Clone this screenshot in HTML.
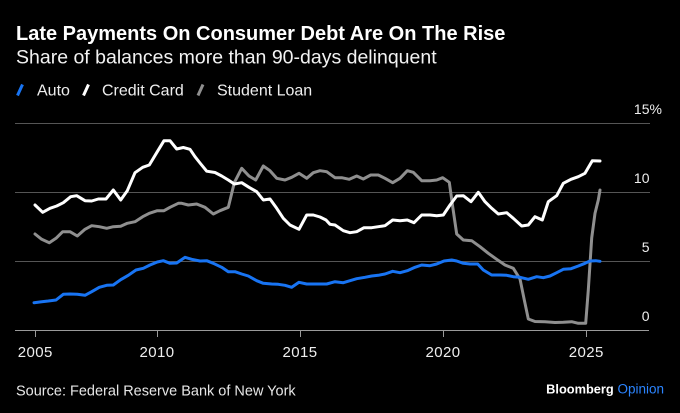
<!DOCTYPE html>
<html>
<head>
<meta charset="utf-8">
<style>
  html, body { margin:0; padding:0; background:#000; }
  body { width:680px; height:413px; overflow:hidden; }
  svg { display:block; font-family:"Liberation Sans", Arial, sans-serif; }
</style>
</head>
<body>
<svg width="680" height="413" viewBox="0 0 680 413" xmlns="http://www.w3.org/2000/svg">
  <rect x="0" y="0" width="680" height="413" fill="#000"/>

  <!-- Title / subtitle -->
  <text x="16" y="40" fill="#fff" font-size="20" font-weight="bold">Late Payments On Consumer Debt Are On The Rise</text>
  <text x="16" y="63.5" fill="#f2f2f2" font-size="19.5">Share of balances more than 90-days delinquent</text>

  <!-- Legend -->
  <line x1="17.5" y1="95.5" x2="22.5" y2="84.5" stroke="#1874f3" stroke-width="3"/>
  <text x="37" y="95.7" fill="#eee" font-size="16">Auto</text>
  <line x1="83.5" y1="95.5" x2="88.5" y2="84.5" stroke="#fff" stroke-width="3"/>
  <text x="102" y="95.7" fill="#eee" font-size="16">Credit Card</text>
  <line x1="198" y1="95.5" x2="203" y2="84.5" stroke="#8f8f8f" stroke-width="3"/>
  <text x="217" y="95.7" fill="#eee" font-size="16">Student Loan</text>

  <!-- Gridlines -->
  <g stroke="#555" stroke-width="1">
    <line x1="15" y1="123.5" x2="650" y2="123.5"/>
    <line x1="15" y1="192.5" x2="650" y2="192.5"/>
    <line x1="15" y1="261.5" x2="650" y2="261.5"/>
  </g>
  <!-- Axis -->
  <line x1="15" y1="330.5" x2="649" y2="330.5" stroke="#9a9a9a" stroke-width="1"/>
  <g stroke="#9a9a9a" stroke-width="1">
    <line x1="35.5" y1="331" x2="35.5" y2="337"/>
    <line x1="157.5" y1="331" x2="157.5" y2="337"/>
    <line x1="300.5" y1="331" x2="300.5" y2="337"/>
    <line x1="443.5" y1="331" x2="443.5" y2="337"/>
    <line x1="586.5" y1="331" x2="586.5" y2="337"/>
  </g>

  <!-- Y labels -->
  <g fill="#eee" font-size="14">
    <text x="649.5" y="114" text-anchor="end">15</text>
    <text x="649.5" y="114">%</text>
    <text x="649.5" y="183" text-anchor="end">10</text>
    <text x="649.5" y="252" text-anchor="end">5</text>
    <text x="649.5" y="321" text-anchor="end">0</text>
  </g>

  <!-- X labels -->
  <g fill="#eee" font-size="15" text-anchor="middle" letter-spacing="0.4">
    <text x="35.3" y="357">2005</text>
    <text x="157" y="357">2010</text>
    <text x="300" y="357">2015</text>
    <text x="443" y="357">2020</text>
    <text x="586.3" y="357">2025</text>
  </g>

  <!-- Series -->
  <g fill="none" stroke-width="3" stroke-linejoin="round" stroke-linecap="round">
    <polyline stroke="#8f8f8f" points="35,234 41.7,239.3 49.3,242.7 56,238.3 62.7,231.7 70,231.7 77.3,236 85,229.3 91.7,225.7 99.3,226.7 106.7,228.3 113.3,226.7 120.7,226.3 127.3,223.3 135,221.7 142.7,216.7 149.3,213.3 157.3,210.7 164,210.7 170,207.3 178.3,203.3 181.7,203.3 188.3,205 196.7,204 205,207.3 213.3,214 220,210.7 228.3,207.3 234.3,182.7 241.7,168.3 249,176 255.7,180 263.3,166 270,170.7 276.7,178.3 285,180 291.7,177.3 299,173.3 306.7,178.3 313.3,172.7 320,170.7 326.7,171.7 335,177.7 341.7,177.7 349.3,179.3 356.7,176 363.3,179 370.7,175 378.3,175 385,178.3 392.7,182.7 400,178.3 407.3,170.7 413.3,172.3 421.7,180.7 430,180.7 436.7,180 442.7,177.7 449.3,182.3 452.7,206.7 456.7,234 463.3,240 471.7,240.7 480,246.7 488.3,253.3 496.7,259.3 505,265 513.3,268.3 520,279 524.3,300 528.3,319 535,321.5 545,321.7 555,322.5 563.3,322.3 571.7,321.7 578.3,323.3 585.7,323.3 588.3,290 591.7,238 595,213.3 598.3,200 600,190"/>
    <polyline stroke="#ffffff" points="35,205 42.7,212.3 50,208.3 56.7,206 63.3,202.7 70.7,196.7 76.7,195.7 85,200.7 91.7,201 98.3,199 106,199 113.3,190 120.7,200 127.3,190.7 135,172.7 142.7,167.3 149.3,165 157.3,151.7 164,140.7 170,140.7 176.7,149 183.3,147.5 190,149.3 195,156.7 200,163 206.7,171.2 215,172.5 221.7,176 228.3,180 234.3,184 241.7,182.7 249,187.3 256.7,191.7 263.3,200 270,199 276.7,208.3 283.3,218.3 290,225 299,229.3 306.7,215 313.3,215 320,217 326,220 330,224.3 335,225 343.3,230.7 350,232.7 356.7,231.7 364,227.7 371.7,227.7 378.3,226.7 385,225.7 392.7,220 400,220.7 407.3,220 414,222.7 421.7,215 430,215 436.7,215.7 443.3,215 450,205 456.7,196 463.3,195.7 471,201.7 478.3,192.3 485,201.7 491.7,208.3 498.3,214 506.7,212.7 513.3,218.3 521.7,226 528.3,225 535,216.7 542.3,220 548.3,201.7 556.7,195.7 563.3,183.3 571,179.3 578.3,176.7 585,173.3 592.3,160.7 600,161"/>
    <polyline stroke="#1874f3" points="34,302.7 41.7,301.7 48.3,301 56,300 63.3,294.3 70,294 77.3,294.3 85,295.3 91.7,291.7 99.3,287.3 106.7,285.3 113.3,285 120.7,279.7 128.3,275.3 136,270 143.3,268.3 150,265 157.3,262 163.3,260.7 170,263.3 176.7,263 185,257.3 191.7,259.3 200,261 206.7,260.7 213.3,263.3 221.7,267.3 228.3,271.7 235,271.7 241.7,274 248.3,276 256.7,280.7 263.3,283.3 271.7,284 278.3,284.3 285,285.3 291.7,287.3 299,282.3 306.7,284 315,284 320,284 326.7,284 335,281.7 343.3,282.7 350,280.7 356.7,278.7 365,277.3 371.7,276 378.3,275.3 385,274 392.7,271.3 400,272.7 407.3,270.7 415,267.3 421.7,265 430,265.7 436.7,264 444,261 451.7,260 456.7,261 463.3,263.3 470,264 477.7,264 483.3,270 491.7,275 500,275 506.7,275.3 513.3,276.7 520,277.3 528.3,279.3 536.7,276.7 543.3,277.7 550,276 556.7,272.7 563.3,269.3 571,268.7 578.3,266 585,263.3 590,261 595.7,260.7 600,261.3"/>
  </g>

  <!-- Footer -->
  <text x="16" y="395.7" fill="#e6e6e6" font-size="14.5">Source: Federal Reserve Bank of New York</text>
  <text x="664" y="393.5" text-anchor="end" font-size="13.5"><tspan fill="#fff" font-weight="bold" font-size="12.8">Bloomberg</tspan><tspan fill="#2b84ff"> Opinion</tspan></text>
</svg>
</body>
</html>
